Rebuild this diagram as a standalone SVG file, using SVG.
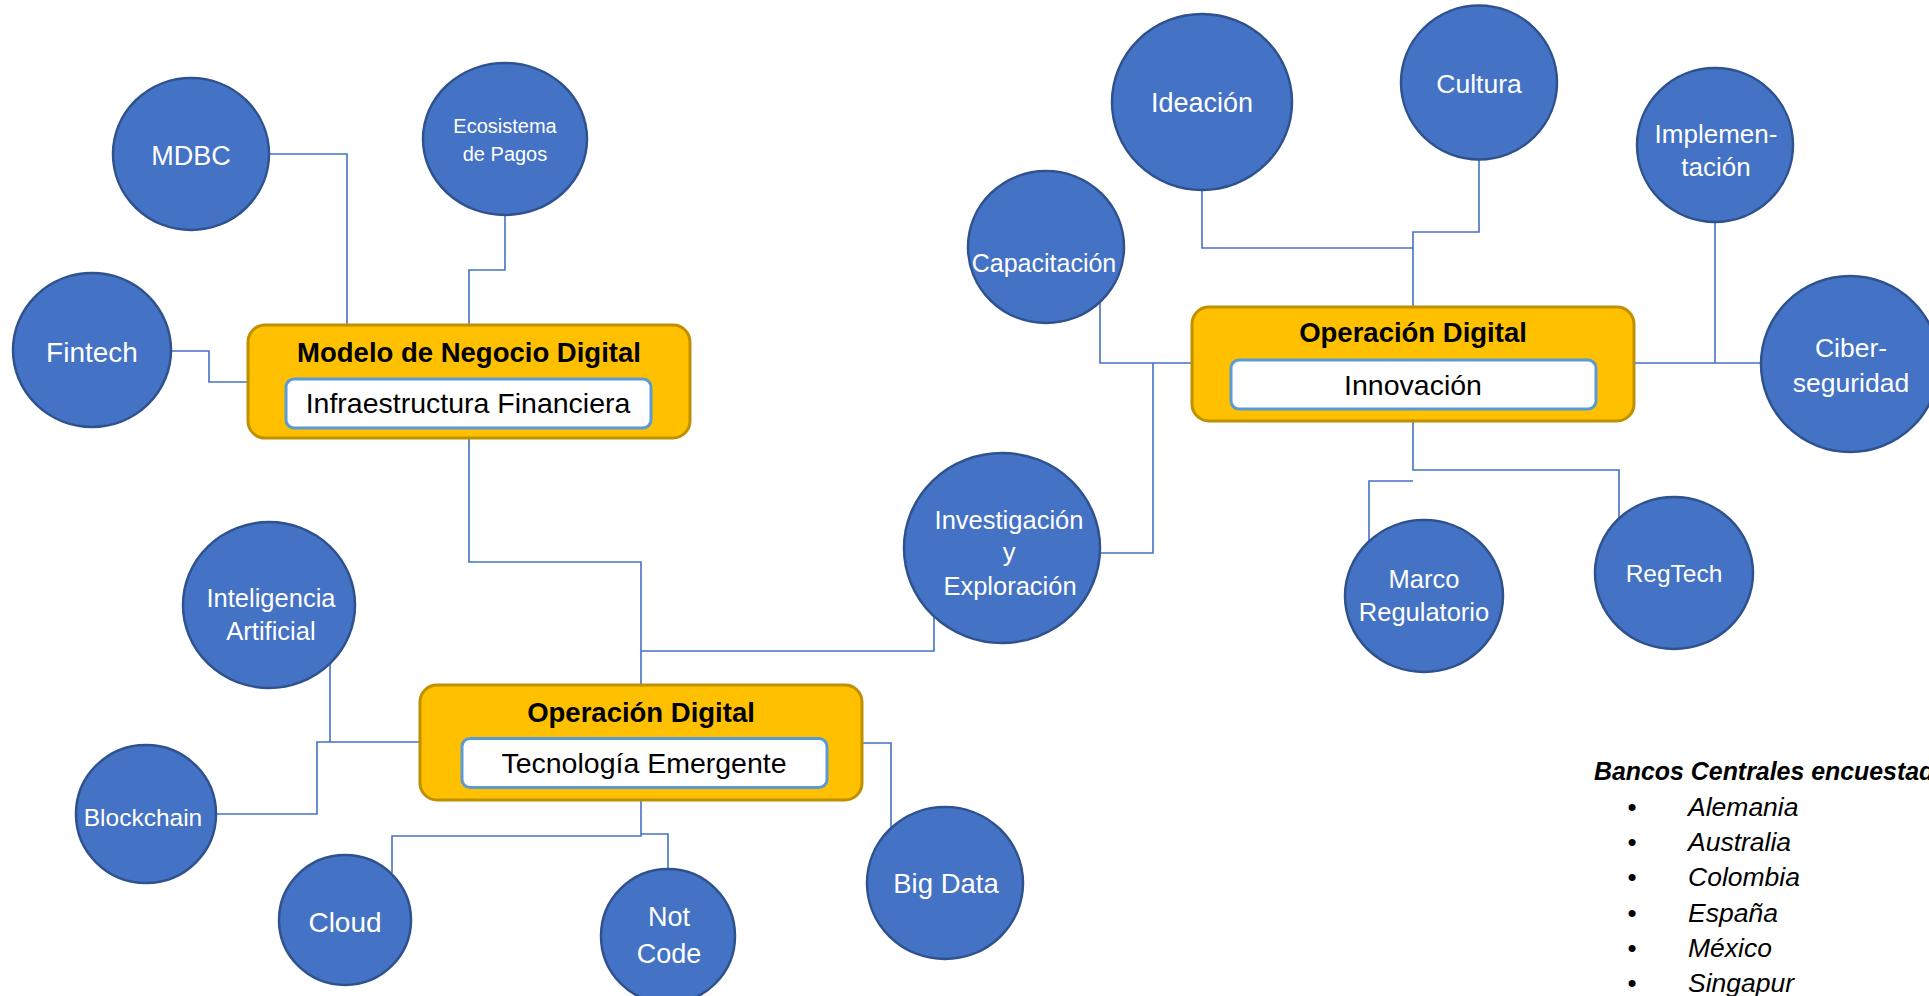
<svg xmlns="http://www.w3.org/2000/svg" width="1929" height="996" viewBox="0 0 1929 996">
<style>
.c{fill:#4472C4;stroke:#2F528F;stroke-width:2.5}
.n{font-family:"Liberation Sans",Arial,sans-serif;fill:#fff;text-anchor:middle}
.box{fill:#FFC000;stroke:#BF9000;stroke-width:3}
.in{fill:#fff;stroke:#5B9BD5;stroke-width:3}
.t{font-family:"Liberation Sans",Arial,sans-serif;font-weight:bold;font-size:27.5px;fill:#000;text-anchor:middle}
.s{font-family:"Liberation Sans",Arial,sans-serif;font-size:28.5px;fill:#000;text-anchor:middle}
.ln{fill:none;stroke:#4472C4;stroke-width:1.6}
.lg{font-family:"Liberation Sans",Arial,sans-serif;font-style:italic;fill:#000}
</style>
<rect width="1929" height="996" fill="#fff"/>
<g id="connectors">
<path class="ln" d="M269,154 H347 V325"/>
<path class="ln" d="M505,215 V270 H469 V325"/>
<path class="ln" d="M171,351 H209 V382 H248"/>
<path class="ln" d="M469,438 V562 H641 V685"/>
<path class="ln" d="M641,651 H934 V617"/>
<path class="ln" d="M330,742 V664"/>
<path class="ln" d="M420,742 H317 V814 H216"/>
<path class="ln" d="M641,800 V836 H392 V873"/>
<path class="ln" d="M641,834 H668 V869"/>
<path class="ln" d="M862,743 H891 V827"/>
<path class="ln" d="M1202,190 V248 H1413"/>
<path class="ln" d="M1479,159 V232 H1413 V307"/>
<path class="ln" d="M1100,301 V363 H1192"/>
<path class="ln" d="M1153,363 V553 H1101"/>
<path class="ln" d="M1634,363 H1761"/>
<path class="ln" d="M1715,221 V363"/>
<path class="ln" d="M1413,421 V470 H1619 V518"/>
<path class="ln" d="M1413,481 H1369 V541"/>
</g>
<g id="mdbc"><ellipse class="c" cx="191" cy="154" rx="78" ry="76"/><text class="n" x="191" y="165" font-size="27">MDBC</text></g>
<g id="ecosistema"><ellipse class="c" cx="505" cy="139" rx="82" ry="76"/><text class="n" x="505" y="133" font-size="20">Ecosistema</text><text class="n" x="505" y="161" font-size="20">de Pagos</text></g>
<g id="fintech"><ellipse class="c" cx="92" cy="350" rx="79" ry="77"/><text class="n" x="92" y="362" font-size="28">Fintech</text></g>
<g id="modelo"><rect class="box" x="248" y="325" width="442" height="113" rx="17"/><text class="t" x="469" y="362">Modelo de Negocio Digital</text><rect class="in" x="286" y="379" width="365" height="49" rx="8"/><text class="s" x="468" y="413">Infraestructura Financiera</text></g>
<g id="ideacion"><ellipse class="c" cx="1202" cy="102" rx="90" ry="88"/><text class="n" x="1202" y="112" font-size="27">Ideación</text></g>
<g id="cultura"><ellipse class="c" cx="1479" cy="82.5" rx="78" ry="77"/><text class="n" x="1479" y="93" font-size="26.5">Cultura</text></g>
<g id="implementacion"><ellipse class="c" cx="1715" cy="145" rx="78" ry="77"/><text class="n" x="1716" y="143" font-size="26">Implemen-</text><text class="n" x="1716" y="176" font-size="26">tación</text></g>
<g id="capacitacion"><ellipse class="c" cx="1046" cy="247" rx="78" ry="76"/><text class="n" x="1044" y="272" font-size="25">Capacitación</text></g>
<g id="ciberseguridad"><ellipse class="c" cx="1850" cy="364" rx="89" ry="88"/><text class="n" x="1851" y="357" font-size="26.5">Ciber-</text><text class="n" x="1851" y="392" font-size="26.5">seguridad</text></g>
<g id="innovacion"><rect class="box" x="1192" y="307" width="442" height="114" rx="17"/><text class="t" x="1413" y="342">Operación Digital</text><rect class="in" x="1231" y="360" width="365" height="49" rx="8"/><text class="s" x="1413" y="395">Innovación</text></g>
<g id="marco"><ellipse class="c" cx="1424" cy="596" rx="79" ry="76"/><text class="n" x="1424" y="588" font-size="25.5">Marco</text><text class="n" x="1424" y="621" font-size="25.5">Regulatorio</text></g>
<g id="regtech"><ellipse class="c" cx="1674" cy="573" rx="79" ry="76"/><text class="n" x="1674" y="582" font-size="24.5">RegTech</text></g>
<g id="investigacion"><ellipse class="c" cx="1002" cy="548" rx="98" ry="95"/><text class="n" x="1009" y="529" font-size="25.5">Investigación</text><text class="n" x="1009" y="561" font-size="25.5">y</text><text class="n" x="1010" y="595" font-size="25.5">Exploración</text></g>
<g id="ia"><ellipse class="c" cx="269" cy="605" rx="86" ry="83"/><text class="n" x="271" y="607" font-size="25.5">Inteligencia</text><text class="n" x="271" y="640" font-size="25.5">Artificial</text></g>
<g id="tecnologia"><rect class="box" x="420" y="685" width="442" height="115" rx="17"/><text class="t" x="641" y="722">Operación Digital</text><rect class="in" x="462" y="738.5" width="365" height="49" rx="8"/><text class="s" x="644" y="773">Tecnología Emergente</text></g>
<g id="blockchain"><ellipse class="c" cx="146" cy="814" rx="70" ry="69"/><text class="n" x="143" y="826" font-size="24.5">Blockchain</text></g>
<g id="cloud"><ellipse class="c" cx="345" cy="920" rx="66" ry="65"/><text class="n" x="345" y="932" font-size="28">Cloud</text></g>
<g id="notcode"><ellipse class="c" cx="668" cy="936" rx="67" ry="67"/><text class="n" x="669" y="926" font-size="27">Not</text><text class="n" x="669" y="963" font-size="27">Code</text></g>
<g id="bigdata"><ellipse class="c" cx="945" cy="883" rx="78" ry="76"/><text class="n" x="946" y="893" font-size="27.5">Big Data</text></g>
<g id="legend">
<text class="lg" x="1594" y="780" font-weight="bold" font-size="24.9">Bancos Centrales encuestados</text>
<g font-family="Liberation Sans, Arial, sans-serif" font-size="26" text-anchor="middle">
<text x="1632" y="816">•</text><text x="1632" y="851">•</text><text x="1632" y="886">•</text><text x="1632" y="922">•</text><text x="1632" y="957">•</text><text x="1632" y="992">•</text>
</g>
<g font-size="26.5">
<text class="lg" x="1688" y="816">Alemania</text>
<text class="lg" x="1688" y="851">Australia</text>
<text class="lg" x="1688" y="886">Colombia</text>
<text class="lg" x="1688" y="922">España</text>
<text class="lg" x="1688" y="957">México</text>
<text class="lg" x="1688" y="992">Singapur</text>
</g>
</g>
</svg>
